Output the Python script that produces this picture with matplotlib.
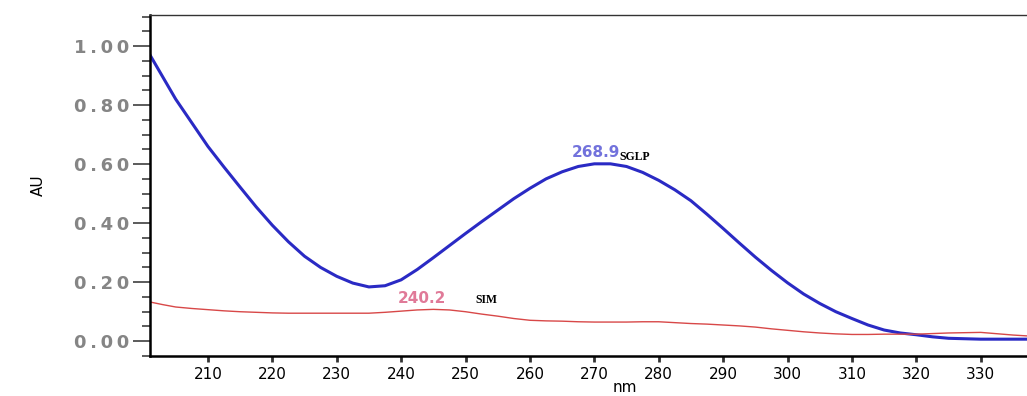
import numpy as np
import matplotlib.pyplot as plt
from matplotlib.ticker import MultipleLocator

# wavelength (nm) and absorbance readings
wl = [201, 203, 205, 207.5, 210, 212.5, 215, 217.5, 220, 222.5, 225, 227.5, 230,
      232.5, 235, 237.5, 240, 242.5, 245, 247.5, 250, 252.5, 255, 257.5, 260,
      262.5, 265, 267.5, 270, 272.5, 275, 277.5, 280, 282.5, 285, 287.5, 290,
      292.5, 295, 297.5, 300, 302.5, 305, 307.5, 310, 312.5, 315, 317.5, 320,
      322.5, 325, 330, 335, 338]
sglp = [0.97, 0.895, 0.82, 0.74, 0.66, 0.59, 0.522, 0.455, 0.393, 0.337, 0.288, 0.25, 0.22,
        0.197, 0.184, 0.188, 0.208, 0.243, 0.283, 0.324, 0.365, 0.405, 0.444, 0.483, 0.518,
        0.55, 0.574, 0.592, 0.601, 0.601, 0.592, 0.572, 0.545, 0.513, 0.476, 0.43, 0.382,
        0.333, 0.285, 0.24, 0.198, 0.16, 0.128, 0.10, 0.077, 0.055, 0.038, 0.028, 0.022,
        0.015, 0.01, 0.007, 0.007, 0.007]
sim = [0.133, 0.124, 0.116, 0.111, 0.107, 0.103, 0.100, 0.098, 0.096, 0.095, 0.095, 0.095, 0.095,
       0.095, 0.095, 0.098, 0.102, 0.106, 0.108, 0.106, 0.100, 0.092, 0.085, 0.077, 0.071,
       0.069, 0.068, 0.066, 0.065, 0.065, 0.065, 0.066, 0.066, 0.063, 0.060, 0.058, 0.055,
       0.052, 0.048, 0.042, 0.037, 0.032, 0.028, 0.025, 0.023, 0.023, 0.024, 0.024, 0.024,
       0.026, 0.028, 0.030, 0.021, 0.017]

peak_labels = ["268.9", "240.2"]
names = ["SGLP", "SIM"]
ytick_vals = [0.0, 0.2, 0.4, 0.6, 0.8, 1.0]
xtick_vals = list(range(210, 331, 10))

fig = plt.figure(figsize=(10.27, 3.96), dpi=100)
ax = fig.add_axes([0.146, 0.101, 0.856, 0.861])

ax.plot(wl, sglp, color='#2a2ac4', linewidth=2.2, solid_joinstyle='round')
ax.plot(wl, sim, color='#d84848', linewidth=1.0)

# peak annotations
ax.text(270.3, 0.64, peak_labels[0], color='#7272dc', fontsize=11, fontweight='bold',
        ha='center', va='center')
ax.text(273.9, 0.624, names[0], color='black', fontsize=8.5, fontweight='bold',
        family='Liberation Serif', ha='left', va='center')
ax.text(243.2, 0.146, peak_labels[1], color='#e07a98', fontsize=11, fontweight='bold',
        ha='center', va='center')
ax.text(251.6, 0.139, names[1], color='black', fontsize=8.5, fontweight='bold',
        family='Liberation Serif', ha='left', va='center')

ax.set_xlim(201, 337.5)
ax.set_ylim(-0.05, 1.105)

# wide, spaced-out tick labels like the instrument software
ax.set_yticks(ytick_vals)
ax.set_yticklabels(['\u2009'.join('%.2f' % v) for v in ytick_vals],
                   color='#858585', fontsize=13, fontweight='bold')
ax.yaxis.set_minor_locator(MultipleLocator(0.05))
ax.tick_params(axis='y', which='major', length=12, width=1.2, color='#404040', pad=3)
ax.tick_params(axis='y', which='minor', length=6, width=1.2, color='#404040')

ax.set_xticks(xtick_vals)
ax.set_xticklabels([str(v) for v in xtick_vals], fontsize=11, family='Liberation Sans Narrow')
ax.tick_params(axis='x', length=4, width=2, color='#333333', pad=4)

ax.set_ylabel('AU', fontsize=11, family='Liberation Sans Narrow', labelpad=20)
ax.set_xlabel('nm', fontsize=11, family='Liberation Sans Narrow', va='center')
ax.xaxis.set_label_coords(0.54, -0.092)

ax.spines['right'].set_visible(False)
ax.spines['left'].set_linewidth(1.8)
ax.spines['bottom'].set_linewidth(1.8)
ax.spines['top'].set_linewidth(1.0)
ax.spines['top'].set_color('#333333')

fig.savefig('out.png', dpi=100)
